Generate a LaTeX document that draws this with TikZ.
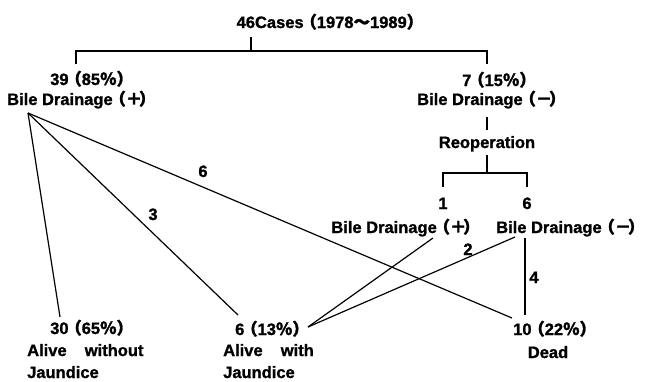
\documentclass[tikz,border=0pt]{standalone}
\usepackage{fontspec}
\setmainfont{Liberation Sans}[BoldFeatures={FakeBold=1.2}]
\newfontfamily\jpf{Noto Sans CJK JP}[BoldFeatures={FakeBold=1.5}]
\newcommand\flp{\kern-0.2em{\jpf （}}
\newcommand\frp{{\jpf ）}\kern-0.6em}
\newcommand\fpct{{\jpf ％}}
\newcommand\fwave{{\jpf 〜}}
\newcommand\fplus{{\jpf ＋}\kern-0.2em}
\newcommand\fminus{{\jpf －}\kern-0.2em}
\begin{document}
\begin{tikzpicture}[x=1pt,y=-1pt,
  txt/.style={inner sep=0pt,font=\fontsize{16.5}{18}\selectfont\bfseries,anchor=base west},
  ctxt/.style={txt,anchor=base},
  ln/.style={line width=1.2pt}]
\useasboundingbox (0,0) rectangle (646,381);
% texts
\node[ctxt] (top) at (325,28) {46Cases\flp 1978\fwave 1989\frp};
\node[txt] (l1) at (50,85) {39\flp 85\fpct\frp};
\node[txt] (l2) at (7,105) {Bile Drainage\flp\fplus\frp};
\node[txt] (r1) at (462,86) {7\flp 15\fpct\frp};
\node[txt] (r2) at (417,105) {Bile Drainage\flp\fminus\frp};
\node[ctxt] (reop) at (487,148) {Reoperation};
\node[ctxt] (n1) at (443,209) {1};
\node[ctxt] (n6) at (527,209) {6};
\node[txt,anchor=base east] (bp) at (470,233) {Bile Drainage\flp\fplus\frp};
\node[txt] (bm) at (496,233) {Bile Drainage\flp\fminus\frp};
\node[txt] (a30) at (50,334) {30\flp 65\fpct\frp};
\node[txt] (a30b) at (27,356) {Alive\hspace{1.1em}without};
\node[txt] (a30c) at (27,378) {Jaundice};
\node[txt] (a6) at (235,335) {6\flp 13\fpct\frp};
\node[txt] (a6b) at (223,356) {Alive\hspace{1.1em}with};
\node[txt] (a6c) at (223,378) {Jaundice};
\node[txt] (d10) at (513,335) {10\flp 22\fpct\frp};
\node[ctxt] (dead) at (548,358) {Dead};
% edge labels
\node[ctxt] (lab6) at (203,177) {6};
\node[ctxt] (lab3) at (153,220) {3};
\node[ctxt] (lab2) at (468,255) {2};
\node[ctxt] (lab4) at (534,283) {4};
% connector end points
\coordinate (topS) at (251,37);
\coordinate (brM) at (251,51);
\coordinate (brL) at (76,51);
\coordinate (brR) at (487,51);
\coordinate (l1N) at (76,64);
\coordinate (r1N) at (487,64);
\coordinate (r2S) at (487,117);
\coordinate (reopN) at (487,130);
\coordinate (reopS) at (487,155);
\coordinate (br2M) at (487,173);
\coordinate (br2L) at (443,173);
\coordinate (br2R) at (527,173);
\coordinate (n1N) at (443,187);
\coordinate (n6N) at (527,187);
\coordinate (apex) at (28,113);
\coordinate (a30N) at (60,317);
\coordinate (a6N) at (238,315);
\coordinate (a6E) at (308,327);
\coordinate (d10N) at (512,318);
\coordinate (d10Nr) at (525,315);
\coordinate (bpS) at (433,238);
\coordinate (bmS) at (515,237);
\coordinate (bmSv) at (525,238);
% connectors
\draw[ln] (topS) -- (brM);
\draw[ln] (l1N) -- (brL) -- (brR) -- (r1N);
\draw[ln] (r2S) -- (reopN);
\draw[ln] (reopS) -- (br2M);
\draw[ln] (n1N) -- (br2L) -- (br2R) -- (n6N);
\draw[ln] (apex) -- (a30N);
\draw[ln] (apex) -- (a6N);
\draw[ln] (apex) -- (d10N);
\draw[ln] (bpS) -- (a6E);
\draw[ln] (bmS) -- (a6E);
\draw[ln] (bmSv) -- (d10Nr);
\end{tikzpicture}
\end{document}
